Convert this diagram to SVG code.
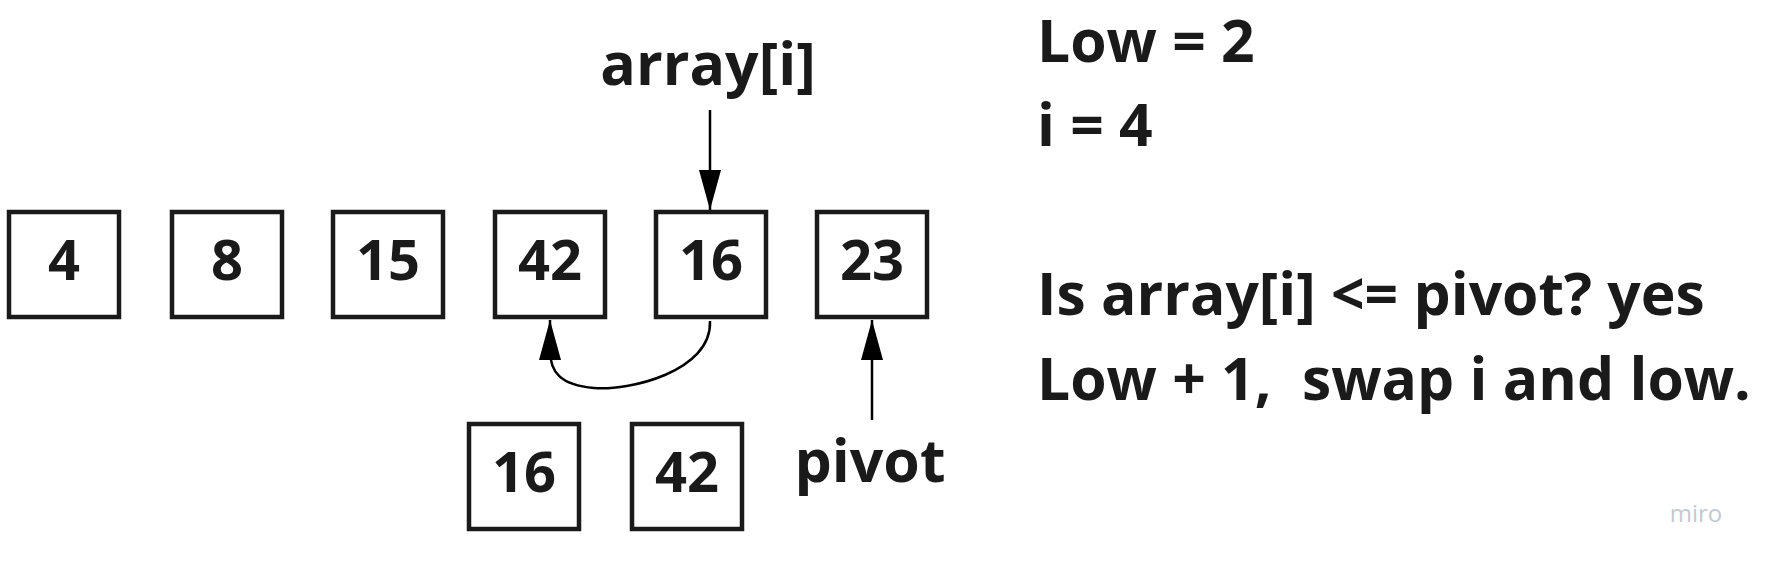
<svg xmlns="http://www.w3.org/2000/svg" width="1767" height="565" viewBox="0 0 1767 565">
<style>
.box{fill:#fff;stroke:#1a1a1a;stroke-width:4.5}
.num{font-family:"Open Sans","Liberation Sans",sans-serif;font-weight:700;font-size:56px;fill:#1a1a1a;text-anchor:middle}
.big{font-family:"Open Sans","Liberation Sans",sans-serif;font-weight:700;font-size:59px;fill:#1a1a1a;text-anchor:middle}
.lbl{font-family:"Open Sans","Liberation Sans",sans-serif;font-weight:700;font-size:58.8px;fill:#1a1a1a}
.conn{fill:none;stroke:#000;stroke-width:2.5}
</style>
<defs>
<marker id="ah" viewBox="0 0 40 22" refX="40" refY="11" markerUnits="userSpaceOnUse" markerWidth="40" markerHeight="22" orient="auto">
<path d="M0,0 L40,11 L0,22 z" fill="#000"/>
</marker>
</defs>
<rect width="1767" height="565" fill="#fff"/>
<g id="n4"><rect class="box" x="9" y="212" width="110" height="105"/><text class="num" x="64" y="280">4</text></g>
<g id="n8"><rect class="box" x="172" y="212" width="110" height="105"/><text class="num" x="227" y="280">8</text></g>
<g id="n15"><rect class="box" x="333" y="212" width="110" height="105"/><text class="num" x="388" y="280">15</text></g>
<g id="n42"><rect class="box" x="495" y="212" width="110" height="105"/><text class="num" x="550" y="280">42</text></g>
<g id="n16"><rect class="box" x="656" y="212" width="110" height="105"/><text class="num" x="711" y="280">16</text></g>
<g id="n23"><rect class="box" x="817" y="212" width="110" height="105"/><text class="num" x="872" y="280">23</text></g>
<g id="m16"><rect class="box" x="469" y="424" width="110" height="105"/><text class="num" x="524" y="492">16</text></g>
<g id="m42"><rect class="box" x="632" y="424" width="110" height="105"/><text class="num" x="687" y="492">42</text></g>
<g id="arrayi"><text class="big" x="708" y="85">array[i]</text></g>
<g id="pivot"><text class="big" x="870" y="482">pivot</text></g>
<g id="info">
<text class="lbl" x="1037" y="62">Low = 2</text>
<text class="lbl" x="1037" y="146">i = 4</text>
<text class="lbl" x="1037" y="315">Is array[i] &lt;= pivot? yes</text>
<text class="lbl" x="1037" y="400" xml:space="preserve">Low + 1,  swap i and low.</text>
</g>
<text x="1696" y="522" font-family="'Open Sans','Liberation Sans',sans-serif" font-size="24" fill="#c5c8d3" text-anchor="middle">miro</text>
<g id="connectors">
<path class="conn" d="M710,110 L710,210" marker-end="url(#ah)"/>
<path class="conn" d="M710,321 C712,372 628,391 594,388 C560,385 550,372 550,350 L550,320" marker-end="url(#ah)"/>
<path class="conn" d="M872,420 L872,320" marker-end="url(#ah)"/>
</g>
</svg>
